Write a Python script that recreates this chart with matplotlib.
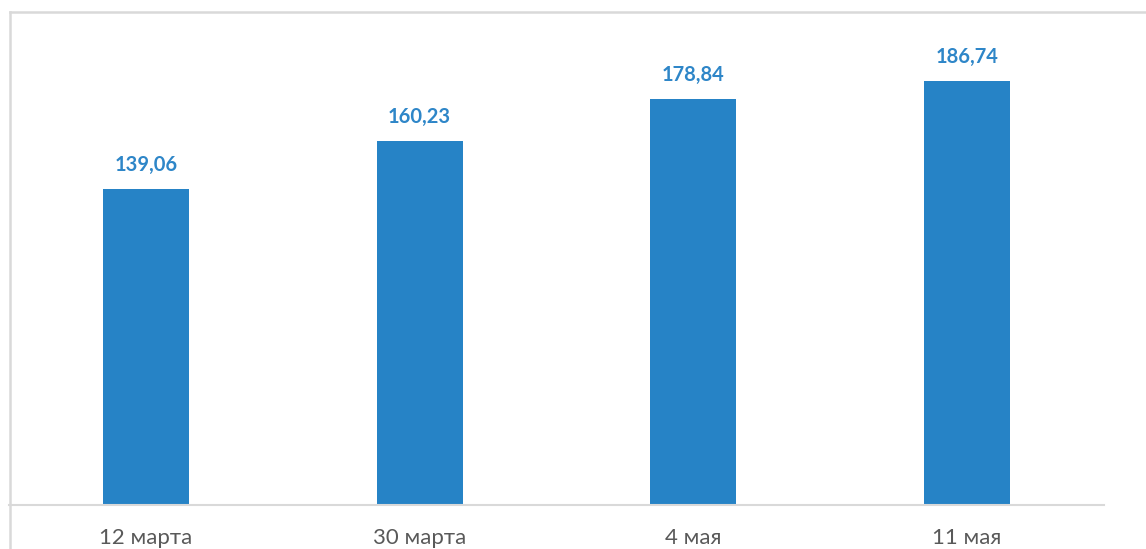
import matplotlib.pyplot as plt
from matplotlib.lines import Line2D

# Данные
dates = ['12 марта', '30 марта', '4 мая', '11 мая']
values = [139.06, 160.23, 178.84, 186.74]

bar_color = '#2683C6'
label_color = '#2E86C8'
grid_color = '#D9D9D9'

W, H = 1146, 549
fig = plt.figure(figsize=(W / 100, H / 100), dpi=100)
ax = fig.add_axes([9 / W, (H - 504.5) / H, (1104 - 9) / W, (504.5 - 50.5) / H])

x = range(len(dates))
bars = ax.bar(x, values, width=0.315, color=bar_color)

for xi, v in zip(x, values):
    ax.annotate(f'{v:.2f}'.replace('.', ','), (xi, v), xytext=(0, 10),
                textcoords='offset points', ha='center', va='bottom',
                fontsize=14.5, fontweight='bold', color=label_color, family='Lato')

ax.set_xlim(-0.5, len(dates) - 0.5)
ax.set_ylim(0, 200)
ax.set_xticks(list(x))
ax.set_xticklabels(dates, fontsize=16, color='#595959', family='Lato')
ax.tick_params(axis='x', length=0, pad=17)
ax.set_yticks([])
for s in ['top', 'right', 'left']:
    ax.spines[s].set_visible(False)
ax.spines['bottom'].set_color(grid_color)
ax.spines['bottom'].set_linewidth(1.5)

# рамка диаграммы
fig.add_artist(Line2D([10 / W, 10 / W], [0, 1 - 12 / H], color=grid_color, lw=1.8))
fig.add_artist(Line2D([10 / W, 1], [1 - 12 / H, 1 - 12 / H], color=grid_color, lw=1.8))

fig.savefig('out.png', dpi=100)
